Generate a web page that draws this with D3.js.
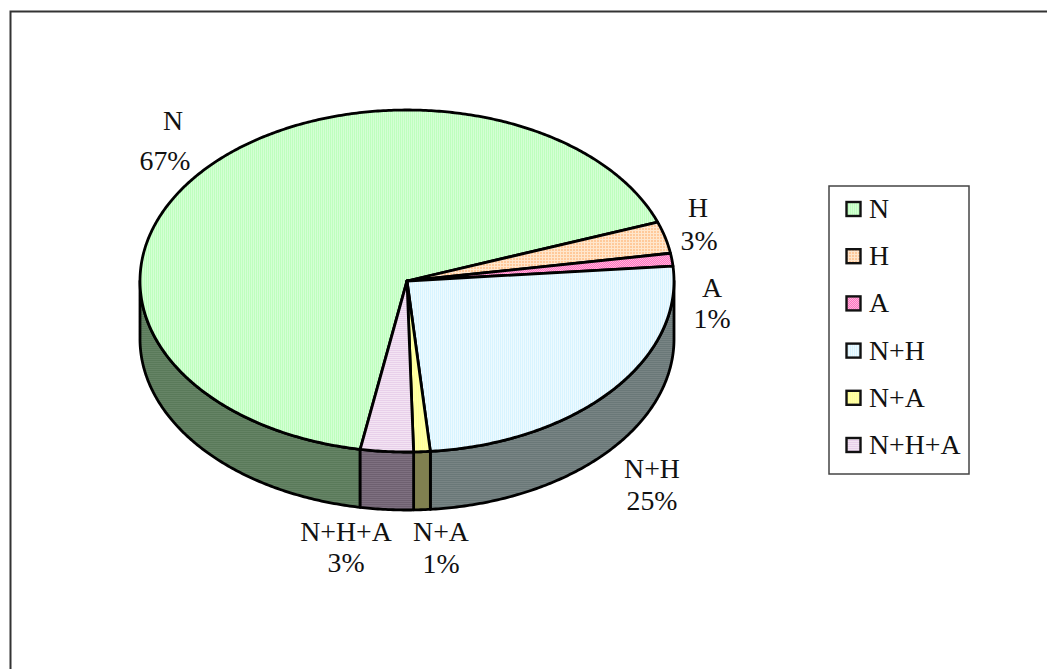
<!DOCTYPE html>
<html><head><meta charset="utf-8">
<style>html,body{margin:0;padding:0;background:#fff}svg{display:block}text{font-family:"Liberation Serif",serif;font-size:27px;fill:#111}</style>
<script src="https://cdnjs.cloudflare.com/ajax/libs/d3/7.8.5/d3.min.js"></script>
</head><body><svg id="c" width="1047" height="669"></svg>
<script>
const categories=["N","H","A","N+H","N+A","N+H+A"];
const values=[66.6,3.0,1.2,25.0,1.0,3.2];
const percentLabels=["67%","3%","1%","25%","1%","3%"];
const topA=["#beffbe","#ffc99a","#ff70c0","#d8f4ff","#ffff99","#e8d0ea"];
const topB=["#d4ffd4","#ffe6cc","#ffb8dc","#eefaff","#ffffa8","#f3e4f3"];
const sideA=["#5a7a5a","#80664d","#804d66","#6a7878","#808050","#6e6070"];
const sideB=["#668466","#80664d","#804d66","#788484","#808050","#7e7080"];
const labelX=[173,698,712,652,441,346];
const labelPctX=[165,699,712,652,441,346];
const labelY=[130,217,297,478,541,541];
const labelPctY=[170,250,328,510,573,572];

const W=1047,H=669,svg=d3.select("#c");
const sx=d3.scaleLinear().domain([-1,1]).range([140,674]);
const sy=d3.scaleLinear().domain([-1,1]).range([110,452]);
const depth=58, tau=2*Math.PI, sw=2.8;
const start=190.1/360*tau;
const arcs=d3.pie().value(d=>d).sort(null).startAngle(start).endAngle(start+tau)(values);

const defs=svg.append("defs");
function pat(id,w,h,bg,fg,rects){
  const p=defs.append("pattern").attr("id",id).attr("patternUnits","userSpaceOnUse").attr("width",w).attr("height",h);
  p.append("rect").attr("width",w).attr("height",h).attr("fill",bg);
  rects.forEach(r=>p.append("rect").attr("x",r[0]).attr("y",r[1]).attr("width",r[2]).attr("height",r[3]).attr("fill",fg));
}
const vert=[[1,0,1,2]],horiz=[[0,1,2,1]],grid=[[2,0,1,3],[0,2,3,1]],check=[[0,0,1,1],[1,1,1,1]];
const kinds=[[2,2,vert],[3,3,grid],[2,2,check],[2,2,vert],[2,2,vert],[2,2,horiz]];
categories.forEach((c,i)=>{
  const k=kinds[i];
  pat("t"+i,k[0],k[1],topA[i],topB[i],k[2]);
  pat("s"+i,2,2,sideA[i],sideB[i],horiz);
});

const line=d3.line().x(d=>d[0]).y(d=>d[1]);
const pt=(a,dy=0)=>[sx(Math.sin(a)),sy(-Math.cos(a))+dy];
const sample=(a0,a1)=>{const n=Math.max(2,Math.ceil((a1-a0)/0.01));return d3.range(n+1).map(i=>a0+(a1-a0)*i/n);};
const center=[sx(0),sy(0)];

svg.append("path").attr("d","M10.5,669V11.5H1047").attr("fill","none").attr("stroke","#333").attr("stroke-width",2);

// side walls: only the front half of the disc (90deg to 270deg) is visible
const lo=tau/4,hi=3*tau/4;
arcs.forEach((d,i)=>{
  [0,tau].forEach(shift=>{
    const a0=Math.max(d.startAngle-shift,lo),a1=Math.min(d.endAngle-shift,hi);
    if(a1<=a0)return;
    const s=sample(a0,a1);
    const p=s.map(a=>pt(a)).concat(s.slice().reverse().map(a=>pt(a,depth)));
    svg.append("path").attr("d",line(p)+"Z").attr("fill",`url(#s${i})`).attr("stroke","#000").attr("stroke-width",sw).attr("stroke-linejoin","round");
  });
});
// top slices
arcs.forEach((d,i)=>{
  const p=[center].concat(sample(d.startAngle,d.endAngle).map(a=>pt(a)));
  svg.append("path").attr("d",line(p)+"Z").attr("fill",`url(#t${i})`).attr("stroke","#000").attr("stroke-width",sw).attr("stroke-linejoin","round");
});

function label(x,y,t){
  svg.append("text").attr("transform",`translate(${x},${y}) scale(1.03,1)`).attr("text-anchor","middle").text(t);
}
categories.forEach((c,i)=>{label(labelX[i],labelY[i],c);label(labelPctX[i],labelPctY[i],percentLabels[i]);});

// legend
svg.append("rect").attr("x",829).attr("y",186).attr("width",140).attr("height",288).attr("fill","#fff").attr("stroke","#444").attr("stroke-width",1.5);
const ly=d3.scalePoint().domain(categories).range([209,445]);
categories.forEach((c,i)=>{
  svg.append("rect").attr("x",846.5).attr("y",ly(c)-7).attr("width",14).attr("height",14).attr("fill",`url(#t${i})`).attr("stroke","#111").attr("stroke-width",2.4);
  svg.append("text").attr("transform",`translate(869,${ly(c)+9}) scale(1.03,1)`).text(c);
});
</script></body></html>
